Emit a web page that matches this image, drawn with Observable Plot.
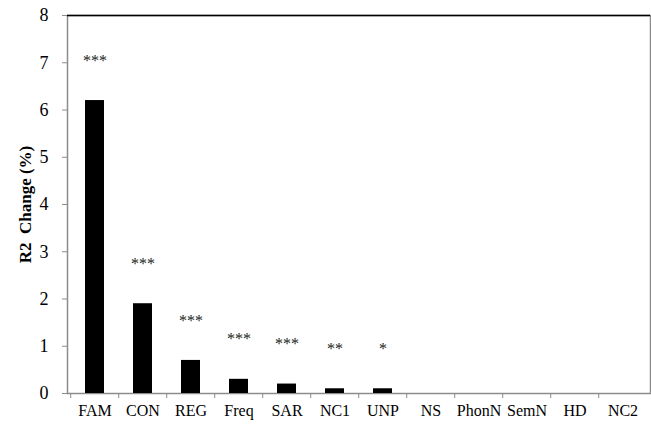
<!DOCTYPE html>
<html>
<head>
<meta charset="utf-8">
<script src="https://cdn.jsdelivr.net/npm/d3@7"></script>
<script src="https://cdn.jsdelivr.net/npm/@observablehq/plot@0.6"></script>
<style>
  html, body { margin: 0; padding: 0; background: #fff; }
</style>
</head>
<body>
<div id="chart"></div>
<script>
const categories = ["FAM", "CON", "REG", "Freq", "SAR", "NC1", "UNP", "NS", "PhonN", "SemN", "HD", "NC2"];
const values = [6.2, 1.9, 0.7, 0.3, 0.2, 0.1, 0.1, 0, 0, 0, 0, 0];
const stars = ["***", "***", "***", "***", "***", "**", "*", "", "", "", "", ""];
const yTicks = [0, 1, 2, 3, 4, 5, 6, 7, 8];
const yLabel = "R2\u00a0 Change (%)";

const data = categories.map((c, i) => ({cat: c, value: values[i], stars: stars[i]}));

const W = 651, H = 425, mL = 67, mR = 1;
const step = (W - mL - mR) / categories.length;
const font = "'Liberation Serif', 'DejaVu Serif', serif";

const chart = Plot.plot({
  width: W,
  height: H,
  marginLeft: mL,
  marginRight: mR,
  marginTop: 15,
  marginBottom: 32,
  style: {fontFamily: font, fontSize: "16px", color: "#000", background: "#fff"},
  x: {domain: categories, paddingInner: 0.6, paddingOuter: 0.3},
  y: {domain: [0, 8]},
  marks: [
    Plot.frame({stroke: "#8c8c8c", strokeWidth: 1.5}),
    Plot.ruleY([8], {stroke: "#000", strokeWidth: 1.5}),
    Plot.barY(data, {x: "cat", y: "value", fill: "#000"}),
    Plot.text(data.filter(d => d.stars), {x: "cat", y: "value", text: "stars", dy: -40, fontSize: 16, fill: "#222"}),
    Plot.axisY({ticks: yTicks, tickSize: 5, tickPadding: 14, fontSize: 18, label: null, stroke: "#8c8c8c"}),
    Plot.axisX({tickSize: 0, tickPadding: 11, fontSize: 16, label: null}),
    Plot.axisX({tickSize: 5, tickFormat: () => "", dx: -step / 2, label: null, stroke: "#8c8c8c"}),
    Plot.text([yLabel], {frameAnchor: "left", textAnchor: "middle", rotate: -90, dx: -42, fontWeight: "bold", fontSize: 17})
  ]
});
document.getElementById("chart").appendChild(chart);
</script>
</body>
</html>
